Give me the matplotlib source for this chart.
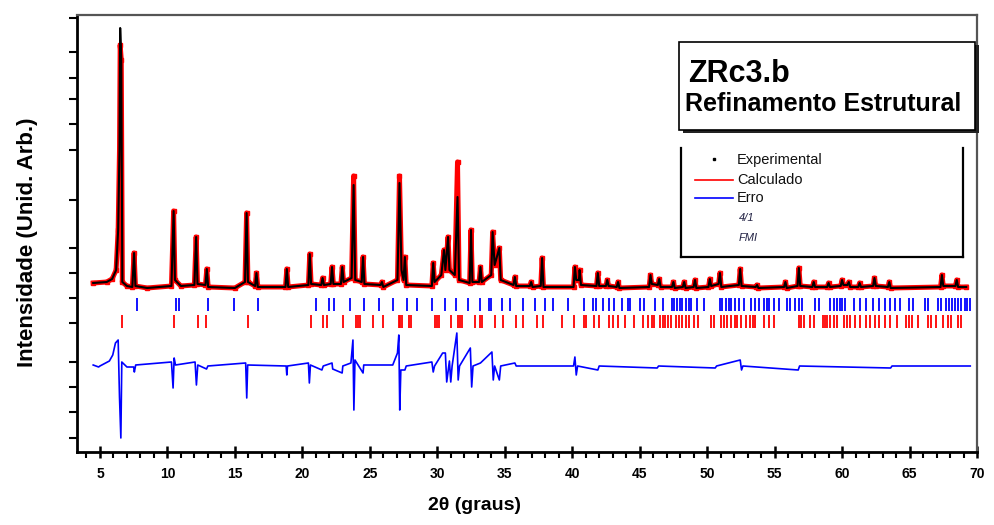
import numpy as np
import matplotlib
matplotlib.use("Agg")
import matplotlib.pyplot as plt
from matplotlib.patches import Rectangle
from matplotlib.lines import Line2D
from matplotlib.ticker import MultipleLocator, NullFormatter

plt.rcParams['font.family'] = ['Liberation Sans', 'DejaVu Sans']

# calculated profile (2theta, intensity) - black line
calc_x = [4.5, 5.5, 5.9, 6.2, 6.35, 6.45, 6.5, 6.58, 6.66, 7.0, 7.4, 7.53, 7.63, 8.5,
          10.3, 10.46, 10.56, 11.0, 12.0, 12.13, 12.23, 12.82, 12.92, 13.02, 15.0, 15.75,
          15.87, 15.97, 16.5, 16.6, 16.7, 18.75, 18.85, 18.95, 20.45, 20.55, 20.65, 21.4,
          21.5, 21.6, 22.1, 22.2, 22.3, 22.86, 22.96, 23.06, 23.65, 23.8, 23.92, 24.4,
          24.5, 24.6, 25.8, 25.9, 26.0, 27.05, 27.2, 27.35, 27.5, 27.6, 27.7, 29.6,
          29.7, 29.8, 30.3, 30.5, 30.6, 30.8, 30.9, 31.3, 31.5, 31.62, 32.4, 32.5,
          32.6, 33.1, 33.2, 33.3, 34.0, 34.1, 34.25, 34.6, 34.7, 35.65, 35.75, 35.85,
          36.86, 36.96, 37.06, 37.67, 37.77, 37.87, 40.1, 40.2, 40.3, 40.5, 40.55, 40.65,
          41.8, 41.9, 42.0, 42.5, 42.6, 42.7, 43.3, 43.4, 43.5, 45.7, 45.8, 45.9,
          46.35, 46.45, 46.55, 47.4, 47.5, 47.6, 48.2, 48.3, 48.4, 49.0, 49.1, 49.2,
          50.1, 50.2, 50.3, 50.85, 50.95, 51.05, 52.35, 52.45, 52.55, 53.6, 53.7, 53.8,
          55.7, 55.8, 55.9, 56.7, 56.8, 56.9, 57.8, 57.9, 58.0, 58.9, 59.0, 59.1,
          59.9, 60.0, 60.1, 60.4, 60.5, 60.6, 61.2, 61.3, 61.4, 62.3, 62.4, 62.5,
          63.4, 63.5, 63.6, 67.3, 67.4, 67.5, 68.4, 68.5, 68.6, 69.2]
calc_y = [140, 160, 220, 400, 1200, 2800, 5240, 4600, 160, 80, 60, 740, 80, 40,
          80, 1580, 200, 80, 100, 1060, 120, 100, 420, 60, 40, 160,
          1540, 160, 80, 340, 60, 60, 420, 60, 100, 720, 120, 100,
          240, 100, 120, 460, 120, 120, 460, 160, 240, 2100, 200, 160,
          660, 120, 100, 160, 60, 200, 2140, 400, 200, 660, 100, 80,
          540, 160, 300, 800, 400, 1060, 400, 300, 1860, 200, 140, 1200,
          160, 160, 460, 160, 300, 1160, 500, 840, 200, 100, 260, 80,
          80, 160, 60, 80, 640, 60, 60, 460, 200, 200, 400, 100,
          80, 340, 80, 80, 200, 80, 60, 160, 40, 60, 300, 120,
          100, 220, 60, 60, 160, 40, 60, 160, 40, 60, 200, 40,
          60, 220, 80, 120, 340, 60, 100, 420, 80, 60, 100, 40,
          60, 160, 40, 80, 440, 80, 60, 160, 60, 60, 140, 60,
          80, 200, 100, 100, 160, 60, 60, 140, 60, 80, 240, 80,
          60, 160, 40, 60, 300, 80, 80, 200, 60, 60]

# observed profile - red points (higher at a few strong reflections)
obs_peaks = {6.5: 4900, 23.8: 2280, 27.2: 2280, 31.5: 2560}
obs_x = calc_x
obs_y = list(calc_y)
for pos, val in obs_peaks.items():
    obs_y[calc_x.index(pos)] = val

# difference curve (obs - calc), drawn with an offset
diff_x = [4.5, 4.9, 5.0, 5.7, 5.95, 6.15, 6.35, 6.45, 6.55, 6.62, 7.0, 7.5, 7.55, 7.65,
          10.3, 10.42, 10.5, 10.6, 12.05, 12.15, 12.25, 12.9, 13.0, 15.8, 15.88, 15.95,
          18.8, 18.85, 18.9, 20.45, 20.52, 20.6, 21.45, 21.55, 22.2, 22.25, 22.95, 23.0,
          23.6, 23.75, 23.82, 23.9, 24.5, 24.55, 26.7, 27.05, 27.15, 27.22, 27.3, 27.6,
          27.7, 29.6, 29.7, 29.8, 30.4, 30.6, 30.7, 30.9, 31.0, 31.1, 31.45, 31.55,
          31.65, 32.45, 32.55, 32.65, 33.2, 34.05, 34.15, 34.25, 34.6, 34.7, 35.75, 35.85,
          40.1, 40.2, 40.3, 40.4, 41.9, 42.0, 46.3, 46.4, 50.6, 50.7, 52.45, 52.55,
          52.65, 56.75, 56.85, 63.6, 63.7, 69.5]
diff_y = [20, -20, 0, 100, 220, 460, 520, -620, -1440, 80, -20, -20, -120, 20,
          80, -440, 160, 20, 80, -380, 20, -60, 0, 60, -640, 20,
          0, -180, 0, 60, -340, 20, -80, 0, 60, -60, -140, 0,
          60, 520, -880, 120, -140, 20, 20, 260, 620, -880, -80, -80,
          0, 80, -120, 0, 260, 260, -320, 100, -320, 0, 660, -280,
          0, 360, -420, 0, 60, 280, -280, 0, -280, 0, 60, 0,
          0, 180, -180, 0, -80, 0, -40, 0, -40, 0, 120, -80,
          0, -80, 0, -40, 0, 0]
diff_offset = -1520

# reflection positions
phase1_pos = [7.71, 10.66, 10.85, 13.0, 14.9, 16.7, 21.0, 22.0, 22.35, 23.5, 24.6, 25.7,
              26.7, 27.75, 28.5, 29.6, 30.6, 31.4, 32.3, 33.2, 33.8, 34.0, 34.82, 35.38,
              36.37, 37.23, 37.97, 38.58, 39.69, 40.87, 41.53, 41.78, 42.27, 42.76, 43.13,
              43.67, 44.11, 44.31, 45.05, 45.35, 46.13, 46.75, 47.36, 47.56, 47.8, 48.0,
              48.17, 48.47, 48.67, 48.79, 49.23, 49.77, 50.95, 51.13, 51.37, 51.62, 51.74,
              52.03, 52.36, 52.73, 53.27, 53.54, 53.83, 54.2, 54.4, 54.57, 54.94, 55.31,
              55.92, 56.17, 56.49, 56.79, 57.03, 58.01, 58.26, 59.12, 59.37, 59.61, 59.81,
              59.98, 60.23, 60.89, 61.33, 61.78, 62.27, 62.76, 63.18, 63.55, 63.91, 64.28,
              64.98, 65.22, 66.13, 66.38, 67.12, 67.31, 67.73, 67.93, 68.12, 68.34, 68.59,
              68.84, 69.08, 69.26, 69.45]
phase2_pos = [6.65, 10.48, 12.26, 12.88, 15.95, 20.67, 21.56, 21.85, 23.03, 23.95, 24.1,
              24.25, 25.22, 25.98, 27.14, 27.26, 27.38, 27.88, 28.07, 29.85, 30.0, 30.15,
              31.0, 31.57, 31.72, 31.86, 32.76, 33.2, 33.35, 34.27, 34.84, 35.8, 36.37,
              37.42, 37.84, 39.24, 40.13, 40.87, 41.04, 41.65, 42.02, 42.76, 43.01, 43.38,
              43.94, 44.56, 45.27, 45.59, 45.89, 46.08, 46.5, 46.7, 46.9, 47.12, 47.31,
              47.68, 47.93, 48.17, 48.42, 48.67, 49.04, 49.36, 50.26, 50.51, 51.05, 51.25,
              51.5, 51.74, 52.03, 52.23, 52.53, 52.85, 53.21, 53.41, 53.58, 54.2, 54.57,
              54.94, 56.79, 56.96, 57.15, 57.64, 57.89, 58.58, 58.75, 58.87, 59.12, 59.37,
              59.66, 60.11, 60.35, 60.6, 60.96, 61.33, 61.78, 62.07, 62.44, 62.76, 63.18,
              63.55, 64.04, 64.73, 64.93, 65.15, 65.64, 66.38, 66.62, 66.99, 67.48, 67.85,
              68.1, 68.59, 68.84]

xticks = [5, 10, 15, 20, 25, 30, 35, 40, 45, 50, 55, 60, 65, 70]
yticks = [5440, 4760, 4240, 3820, 3320, 2800, 1800, 840, 340, -160, -660, -1440,
          -1940, -2440, -2960]

W, H = 994, 525
fig = plt.figure(figsize=(W / 100, H / 100), dpi=100)
ax = fig.add_axes([77 / W, 1 - 452 / H, 900 / W, 437 / H])

ax.plot(obs_x, obs_y, color='red', lw=3.6, zorder=2)
ax.plot(obs_x, obs_y, 's', color='red', ms=3.5, zorder=2)
ax.plot(calc_x, calc_y, color='black', lw=1.5, zorder=3)
ax.plot(diff_x, np.array(diff_y) + diff_offset, color='blue', lw=1.2, zorder=3)
ax.vlines(phase1_pos, -420, -160, color='blue', lw=1.3, zorder=2)
ax.vlines(phase2_pos, -760, -500, color='red', lw=1.3, zorder=2)

ax.set_xlim(3.3, 70)
ax.set_ylim(-3240, 5500)

ax.set_xticks(xticks)
ax.xaxis.set_minor_locator(MultipleLocator(1))
ax.tick_params(axis='x', which='major', direction='inout', length=9, width=1.8, pad=6)
ax.tick_params(axis='x', which='minor', direction='out', length=4, width=1.5)
for lab in ax.get_xticklabels():
    lab.set_family(['Liberation Sans Narrow', 'Liberation Sans', 'DejaVu Sans'])
    lab.set_fontweight('bold')
    lab.set_fontsize(10)

ax.set_yticks(yticks)
ax.yaxis.set_major_formatter(NullFormatter())
ax.tick_params(axis='y', which='major', direction='out', length=6, width=1.5)

for s in ['left', 'bottom']:
    ax.spines[s].set_linewidth(2)
    ax.spines[s].set_color('black')
for s in ['top', 'right']:
    ax.spines[s].set_linewidth(1.6)
    ax.spines[s].set_color('#555555')

fig.text(475 / W, 1 - 505 / H, '2θ (graus)', ha='center', va='center',
         fontsize=14, fontweight='bold')
fig.text(28 / W, 1 - 242 / H, 'Intensidade (Unid. Arb.)', ha='center', va='center',
         rotation=90, fontsize=16, fontweight='bold')


def fx(px):
    return px / W


def fy(py):
    return 1 - py / H


# title box with shadow
fig.add_artist(Rectangle((fx(683), fy(133)), fx(296), 88 / H, transform=fig.transFigure,
                         facecolor='#222222', edgecolor='none', zorder=5))
fig.add_artist(Rectangle((fx(679), fy(130)), fx(296), 88 / H, transform=fig.transFigure,
                         facecolor='white', edgecolor='black', lw=1.2, zorder=6))
fig.text(fx(688), fy(74), 'ZRc3.b', fontsize=22, fontweight='bold', va='center',
         ha='left', zorder=7)
fig.text(fx(685), fy(104), 'Refinamento Estrutural', fontsize=18, fontweight='bold',
         va='center', ha='left', zorder=7)

# legend box (left, right, bottom sides)
for xs, ys in [([681, 681], [148, 257]), ([963, 963], [148, 257]), ([681, 963], [257, 257])]:
    fig.add_artist(Line2D([fx(x) for x in xs], [fy(y) for y in ys], color='black',
                          lw=1.6, transform=fig.transFigure, zorder=6))
fig.add_artist(Line2D([fx(714)], [fy(159)], marker='s', ms=2, color='black',
                      ls='none', transform=fig.transFigure, zorder=7))
fig.add_artist(Line2D([fx(695), fx(733)], [fy(180), fy(180)], color='red', lw=1.2,
                      transform=fig.transFigure, zorder=7))
fig.add_artist(Line2D([fx(695), fx(733)], [fy(198), fy(198)], color='blue', lw=1.2,
                      transform=fig.transFigure, zorder=7))
for txt, py in [('Experimental', 160), ('Calculado', 180), ('Erro', 198)]:
    fig.text(fx(737), fy(py), txt, fontsize=10.5, va='center', ha='left',
             color='#111111', zorder=7)
fig.text(fx(739), fy(218), '4/1', fontsize=8, style='italic', va='center', ha='left',
         color='#222244', zorder=7)
fig.text(fx(739), fy(238), 'FMI', fontsize=8, style='italic', va='center', ha='left',
         color='#222244', zorder=7)

fig.savefig('out.png', dpi=100)
